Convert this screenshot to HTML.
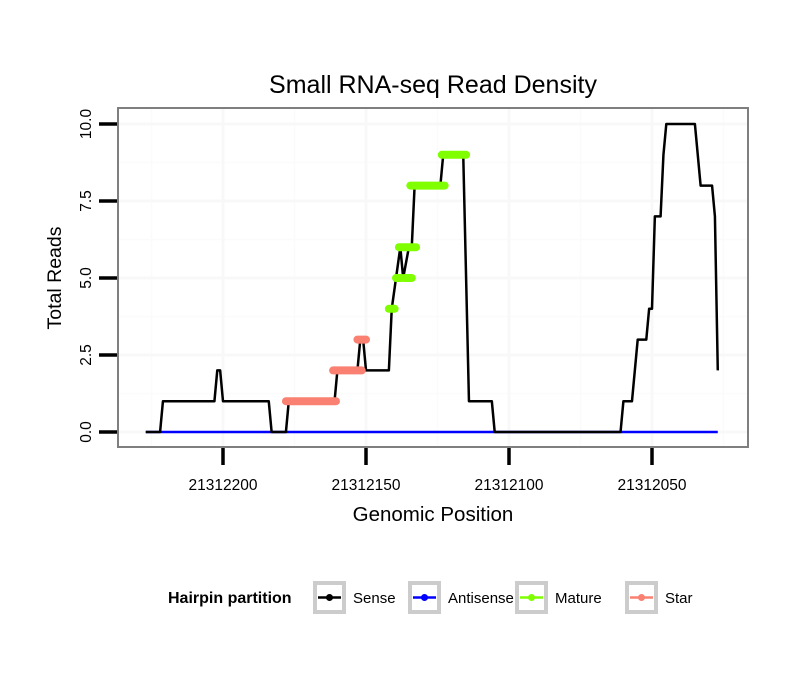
<!DOCTYPE html>
<html><head><meta charset="utf-8"><style>
body{margin:0;background:#fff;}
svg text{font-family:"Liberation Sans",sans-serif;}
</style></head><body>
<svg id="chart" width="810" height="690" xmlns="http://www.w3.org/2000/svg">
<rect width="810" height="690" fill="#fff"/>
<text x="433" y="93" font-size="25" text-anchor="middle" fill="#000">Small RNA-seq Read Density</text>
<g id="grid"></g>
<g id="marks"></g>
<rect x="118" y="108" width="630" height="339" fill="none" stroke="#7f7f7f" stroke-width="2"/>
<g id="axes"></g>
<text x="433" y="521" font-size="20.5" text-anchor="middle">Genomic Position</text>
<text transform="translate(61,278) rotate(-90)" font-size="19.5" text-anchor="middle">Total Reads</text>
<g id="legend">
<text x="168" y="603" font-size="16" font-weight="bold">Hairpin partition</text>
</g>
</svg>
<script>
const sensePos=[21312227,21312222,21312221,21312203,21312202,21312201,21312200,21312184,21312183,21312178,21312177,21312161,21312160,21312153,21312152,21312151,21312150,21312142,21312141,21312138,21312137,21312135,21312134,21312133,21312124,21312123,21312116,21312114,21312106,21312105,21312061,21312060,21312057,21312055,21312052,21312051,21312050,21312049,21312047,21312046,21312045,21312035,21312033,21312029,21312028,21312027];
const senseVal=[0,0,1,1,2,2,1,1,0,0,1,1,2,2,3,3,2,2,4,6,5,6,6,8,8,9,9,1,1,0,0,1,1,3,3,4,4,7,7,9,10,10,8,8,7,2];
const antisensePos=[21312227,21312027];
const antisenseVal=[0,0];
const matureStart=[21312142,21312139.5,21312136.5,21312138.5,21312134.5,21312123.5];
const matureEnd=[21312140,21312137.5,21312134,21312132.5,21312122.5,21312115];
const matureVal=[4,5,5,6,8,9];
const starStart=[21312178,21312161.5,21312153];
const starEnd=[21312160.5,21312151.5,21312150];
const starVal=[1,2,3];
const yTicks=[0,2.5,5,7.5,10];
const yTickLabels=["0.0","2.5","5.0","7.5","10.0"];
const xTicks=[21312200,21312150,21312100,21312050];
const xTickLabels=["21312200","21312150","21312100","21312050"];
const legendLabels=["Sense","Antisense","Mature","Star"];
const legendColors=["#000000","#0000ff","#7fff00","#fa8072"];

const NS="http://www.w3.org/2000/svg";
function xs(p){return 223+(21312200-p)*2.86;}
function ys(v){return 432-v*30.8;}
function mk(tag,attrs,parent){const e=document.createElementNS(NS,tag);for(const k in attrs)e.setAttribute(k,attrs[k]);parent.appendChild(e);return e;}
const grid=document.getElementById('grid'),marks=document.getElementById('marks'),axes=document.getElementById('axes'),legend=document.getElementById('legend');
mk('rect',{x:118,y:108,width:630,height:339,fill:'#fff'},grid);
for(let i=0;i<yTicks.length-1;i++){const v=(yTicks[i]+yTicks[i+1])/2;mk('line',{x1:118,x2:748,y1:ys(v),y2:ys(v),stroke:'#fbfbfb','stroke-width':1.5},grid);}
for(let i=-1;i<xTicks.length;i++){const p=i<0?xTicks[0]+25:xTicks[i]-25;const x=xs(p);if(x>118&&x<748)mk('line',{x1:x,x2:x,y1:108,y2:447,stroke:'#fbfbfb','stroke-width':1.5},grid);}
yTicks.forEach(v=>{mk('line',{x1:118,x2:748,y1:ys(v),y2:ys(v),stroke:'#f8f8f8','stroke-width':3},grid);});
xTicks.forEach(p=>{mk('line',{x1:xs(p),x2:xs(p),y1:108,y2:447,stroke:'#f8f8f8','stroke-width':3},grid);});
let pts=antisensePos.map((p,i)=>xs(p)+','+ys(antisenseVal[i])).join(' ');
let el=mk('polyline',{points:pts,fill:'none',stroke:'#0000ff','stroke-width':2.5},marks);


pts=sensePos.map((p,i)=>xs(p)+','+ys(senseVal[i])).join(' ');
el=mk('polyline',{points:pts,fill:'none',stroke:'#000','stroke-width':2.5,'stroke-linejoin':'round'},marks);


starVal.forEach((v,i)=>{
 const s=mk('line',{x1:xs(starStart[i]),x2:xs(starEnd[i]),y1:ys(v),y2:ys(v),stroke:'#fa8072','stroke-width':8,'stroke-linecap':'round'},marks);
 
 
});
matureVal.forEach((v,i)=>{
 const s=mk('line',{x1:xs(matureStart[i]),x2:xs(matureEnd[i]),y1:ys(v),y2:ys(v),stroke:'#7fff00','stroke-width':8,'stroke-linecap':'round'},marks);
 
 
});
yTicks.forEach((v,i)=>{
 const t=mk('line',{x1:99,x2:117,y1:ys(v),y2:ys(v),stroke:'#000','stroke-width':3.5},axes);
 
 
 const l=mk('text',{transform:'translate(91,'+ys(v)+') rotate(-90)','font-size':15.5,'text-anchor':'middle'},axes);
 l.textContent=yTickLabels[i];
 
 
});
xTicks.forEach((p,i)=>{
 const t=mk('line',{x1:xs(p),x2:xs(p),y1:448,y2:465,stroke:'#000','stroke-width':3.5},axes);
 
 
 const l=mk('text',{x:xs(p),y:490,'font-size':15.5,'text-anchor':'middle'},axes);
 l.textContent=xTickLabels[i];
 
 
});
const boxX=[313,408,515,625];
legendLabels.forEach((lab,i)=>{
 const x=boxX[i];
 const g=mk('g',{},legend);
 
 
 mk('rect',{x:x+2,y:583,width:29,height:29,fill:'#fff',stroke:'#cccccc','stroke-width':4},g);
 mk('line',{x1:x+5,x2:x+28,y1:597.5,y2:597.5,stroke:legendColors[i],'stroke-width':2.5},g);
 mk('circle',{cx:x+16.5,cy:597.5,r:3.5,fill:legendColors[i]},g);
 const t=mk('text',{x:x+40,y:603,'font-size':15},g);
 t.textContent=lab;
});
</script>
</body></html>
